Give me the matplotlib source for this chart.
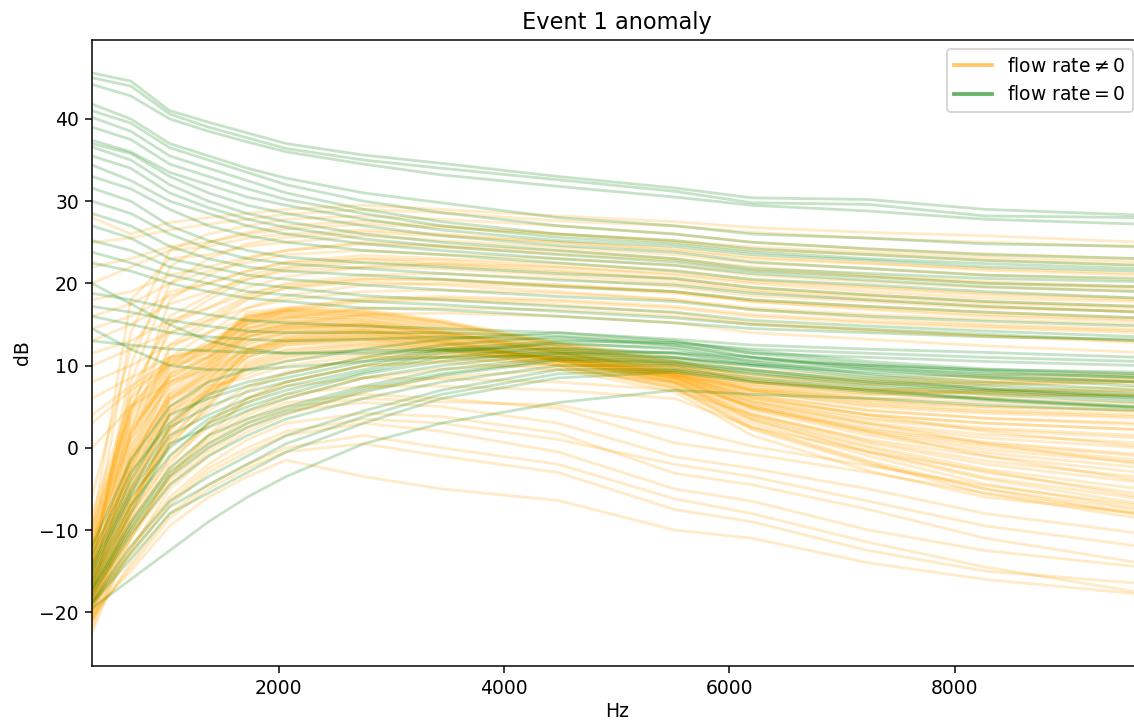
import matplotlib.pyplot as plt
from matplotlib.lines import Line2D

# spectrum bins (Hz)
freqs = [345, 689, 1034, 1378, 1723, 2067, 2756, 3445, 4479, 5513, 6201, 7235, 8269, 9647]

# spectra recorded while the flow rate was non-zero (dB)
flow_on = [
    [28.0, 26.0, 27.4, 28.0, 28.5, 29.0, 29.5, 29.0, 28.2, 27.5, 26.8, 26.2, 25.8, 25.0],
    [25.0, 25.5, 26.5, 27.2, 27.8, 28.4, 29.0, 28.6, 27.6, 27.0, 26.2, 25.5, 25.0, 24.4],
    [-12.0, 14.0, 24.0, 26.0, 27.0, 27.8, 28.2, 27.8, 27.0, 26.0, 25.0, 24.2, 23.6, 23.0],
    [-15.0, 10.0, 22.0, 25.0, 26.2, 27.0, 27.6, 27.0, 26.0, 25.0, 24.0, 23.5, 22.8, 22.2],
    [20.0, 22.0, 24.0, 24.5, 25.5, 26.0, 26.5, 26.0, 25.0, 24.2, 23.2, 22.5, 21.6, 21.0],
    [-16.0, 4.0, 18.0, 21.0, 23.0, 24.0, 25.0, 24.6, 24.0, 23.0, 22.0, 21.0, 20.2, 19.6],
    [16.0, 17.5, 20.0, 21.5, 22.5, 23.5, 24.0, 23.5, 23.0, 22.2, 21.0, 20.2, 19.5, 19.0],
    [-14.0, 6.0, 16.0, 18.5, 21.0, 22.0, 23.0, 22.8, 22.0, 21.0, 20.0, 19.0, 18.2, 17.8],
    [13.0, 15.0, 17.5, 19.0, 20.5, 21.5, 22.0, 21.8, 21.0, 20.0, 19.0, 18.0, 17.2, 16.5],
    [-18.0, 0.0, 12.0, 15.0, 18.0, 19.5, 20.5, 20.5, 19.8, 19.0, 18.0, 17.2, 16.5, 15.8],
    [10.0, 12.0, 14.0, 15.5, 17.0, 18.0, 19.0, 19.2, 18.8, 18.0, 17.0, 16.2, 15.6, 15.0],
    [-17.0, -2.0, 10.0, 13.0, 15.5, 16.8, 18.0, 18.2, 17.8, 17.0, 16.0, 15.2, 14.6, 14.0],
    [6.0, 8.5, 11.0, 12.5, 14.5, 15.8, 17.0, 17.0, 16.8, 16.0, 15.0, 14.2, 13.6, 13.0],
    [-13.0, 5.0, 14.0, 16.0, 18.5, 20.0, 21.0, 21.2, 20.6, 19.6, 18.5, 17.8, 17.0, 16.6],
    [-10.0, 18.0, 23.0, 23.5, 24.5, 25.0, 25.8, 25.2, 24.4, 23.5, 22.5, 21.8, 21.0, 20.4],
    [-6.0, 12.0, 19.0, 20.0, 21.5, 22.5, 23.0, 22.4, 21.6, 20.6, 19.5, 18.6, 17.8, 17.2],
    [22.0, 23.0, 24.5, 25.0, 26.0, 26.6, 27.2, 26.8, 26.0, 25.2, 24.4, 23.8, 23.2, 22.6],
    [-14.5, 8.0, 20.0, 23.0, 24.8, 25.6, 26.2, 25.8, 25.0, 24.0, 23.0, 22.4, 21.8, 21.2],
    [18.0, 19.0, 21.0, 22.0, 23.2, 24.0, 24.8, 24.4, 23.6, 22.8, 21.6, 20.8, 20.0, 19.4],
    [-16.5, 2.0, 15.0, 18.0, 20.5, 21.8, 22.6, 22.2, 21.4, 20.4, 19.2, 18.4, 17.6, 17.0],
    [11.5, 13.0, 15.5, 17.0, 18.8, 19.8, 20.6, 20.4, 19.8, 19.0, 17.8, 17.0, 16.2, 15.6],
    [-18.5, -3.0, 9.0, 12.5, 15.0, 16.6, 17.8, 18.0, 17.4, 16.4, 15.2, 14.4, 13.6, 12.8],
    [8.0, 10.0, 12.5, 14.0, 15.8, 17.0, 18.2, 18.4, 18.0, 17.2, 16.2, 15.4, 14.8, 14.2],
    [-12.5, 7.0, 15.0, 17.0, 19.5, 20.8, 22.0, 22.4, 22.0, 21.2, 20.2, 19.4, 18.6, 18.0],
    [-17.5, -1.0, 11.0, 14.0, 17.0, 18.5, 19.8, 20.0, 19.6, 18.8, 17.8, 16.8, 16.0, 15.4],
    [14.5, 16.0, 18.5, 20.0, 21.5, 22.6, 23.4, 23.0, 22.4, 21.6, 20.4, 19.6, 18.8, 18.2],
    [4.0, 7.5, 10.5, 12.0, 14.0, 15.0, 16.2, 16.4, 16.0, 15.2, 14.0, 13.2, 12.4, 11.6],
    [-15.5, 1.0, 12.5, 15.5, 18.2, 19.4, 20.2, 19.8, 19.0, 18.0, 16.8, 15.8, 15.0, 14.4],
    [-8.0, 6.0, 11.0, 12.0, 16.5, 17.0, 16.8, 15.5, 12.8, 11.0, 9.5, 8.5, 8.8, 9.0],
    [-10.0, 4.0, 10.0, 11.5, 16.0, 16.5, 16.2, 15.0, 12.5, 10.5, 9.0, 8.0, 8.0, 8.2],
    [-12.0, 2.0, 9.0, 11.0, 15.5, 16.2, 16.0, 14.6, 12.2, 10.0, 8.2, 7.2, 7.0, 6.8],
    [-14.0, 0.0, 8.0, 10.5, 15.0, 15.8, 15.6, 14.2, 12.0, 9.6, 7.5, 6.0, 5.5, 5.0],
    [-15.0, -2.0, 7.0, 10.0, 14.5, 15.4, 15.2, 14.0, 11.8, 9.2, 6.8, 5.0, 4.2, 3.6],
    [-16.0, -3.0, 6.0, 9.5, 14.0, 15.0, 15.0, 13.8, 11.6, 9.0, 6.0, 4.0, 3.0, 2.2],
    [-17.0, -4.0, 5.5, 9.0, 13.5, 14.6, 14.8, 13.6, 11.4, 8.8, 5.4, 3.0, 1.6, 0.6],
    [-18.0, -5.0, 5.0, 8.5, 13.0, 14.2, 14.5, 13.4, 11.2, 8.6, 5.0, 2.2, 0.5, -1.0],
    [-19.0, -6.0, 4.0, 8.0, 12.5, 13.8, 14.2, 13.2, 11.0, 8.4, 4.6, 1.5, -0.6, -2.4],
    [-20.0, -7.0, 3.0, 7.5, 12.0, 13.4, 14.0, 13.0, 10.8, 8.2, 4.2, 0.8, -1.6, -3.6],
    [-21.0, -8.0, 2.0, 7.0, 11.5, 13.0, 13.6, 12.8, 10.6, 8.0, 3.8, 0.2, -2.6, -5.0],
    [-20.5, -8.5, 1.0, 6.0, 11.0, 12.5, 13.2, 12.5, 10.4, 7.8, 3.4, -0.4, -3.6, -6.2],
    [-19.5, -7.5, 1.5, 5.5, 10.5, 12.0, 12.8, 12.2, 10.2, 7.6, 3.0, -1.0, -4.4, -7.4],
    [-18.5, -6.5, 0.5, 5.0, 10.0, 11.5, 12.5, 12.0, 10.0, 7.4, 2.6, -1.6, -5.0, -8.2],
    [-17.5, -5.5, 3.5, 6.5, 9.5, 11.0, 12.0, 11.6, 10.8, 9.0, 7.0, 6.0, 6.2, 6.5],
    [-16.5, -4.5, 4.5, 7.0, 9.0, 10.6, 11.5, 11.4, 11.0, 9.4, 7.6, 6.6, 7.0, 7.4],
    [-15.5, -3.5, 5.0, 7.5, 8.5, 10.0, 11.2, 11.2, 11.2, 9.8, 8.0, 7.0, 7.6, 8.0],
    [-14.5, -2.5, 6.0, 8.0, 11.0, 12.5, 13.0, 12.0, 11.0, 9.0, 6.4, 4.5, 3.6, 3.0],
    [-13.5, -1.5, 6.5, 9.0, 12.0, 13.0, 13.4, 12.4, 10.8, 8.8, 5.8, 3.6, 2.4, 1.5],
    [-12.5, 1.0, 7.5, 10.0, 13.0, 14.0, 14.0, 12.8, 10.6, 8.6, 5.2, 2.8, 1.2, 0.0],
    [-11.5, 3.0, 8.5, 11.0, 14.0, 14.8, 14.6, 13.2, 10.6, 8.4, 4.8, 2.0, 0.2, -1.5],
    [-22.0, -10.0, -2.0, 3.0, 7.0, 9.0, 11.0, 11.0, 10.0, 7.2, 2.2, -2.0, -5.0, -7.6],
    [-9.0, 5.0, 10.5, 12.5, 15.8, 16.6, 16.4, 15.2, 12.6, 10.4, 8.4, 7.6, 7.8, 8.0],
    [-11.0, 3.5, 9.5, 11.8, 16.2, 16.8, 16.6, 15.3, 12.4, 10.2, 8.8, 8.2, 8.4, 8.6],
    [-13.0, 1.5, 8.5, 10.8, 15.2, 15.9, 15.5, 14.2, 11.6, 9.6, 7.2, 5.8, 5.0, 4.4],
    [-19.0, -6.8, 2.5, 6.8, 11.8, 13.2, 13.8, 12.9, 10.7, 8.1, 4.0, 0.6, -2.0, -4.2],
    [3.0, 7.0, 10.0, 11.0, 13.5, 14.5, 15.0, 14.0, 12.0, 10.0, 8.0, 7.0, 6.6, 6.4],
    [0.0, 5.0, 8.0, 9.5, 12.0, 13.5, 14.2, 13.6, 11.6, 9.4, 7.0, 5.6, 5.0, 4.6],
    [-10.5, 4.5, 10.2, 11.8, 15.6, 16.3, 16.1, 14.8, 12.3, 10.1, 8.0, 7.0, 6.6, 6.2],
    [-12.8, 1.8, 8.8, 11.2, 15.3, 16.0, 15.8, 14.4, 12.0, 9.8, 7.8, 6.6, 6.0, 5.4],
    [-14.8, -0.8, 7.6, 10.2, 14.6, 15.5, 15.3, 14.0, 11.7, 9.3, 7.0, 5.4, 4.6, 4.0],
    [-16.8, -3.6, 5.8, 9.2, 13.6, 14.8, 14.9, 13.7, 11.5, 8.9, 5.6, 3.4, 2.2, 1.2],
    [-18.8, -5.8, 4.4, 8.2, 12.7, 14.0, 14.3, 13.3, 11.1, 8.5, 4.8, 1.8, -0.2, -1.8],
    [-20.2, -7.6, 2.6, 7.2, 11.7, 13.2, 13.7, 12.8, 10.6, 8.0, 3.6, 0.0, -3.0, -5.6],
    [-21.5, -9.0, 0.2, 5.2, 10.2, 11.8, 12.6, 11.9, 10.0, 7.3, 2.4, -1.8, -5.6, -8.6],
    [-17.8, -4.8, 4.0, 6.8, 9.8, 11.2, 12.2, 11.8, 10.9, 9.2, 7.2, 6.4, 6.8, 7.0],
    [-13.8, -1.2, 6.2, 8.6, 11.5, 12.8, 13.2, 12.2, 10.9, 8.9, 6.1, 4.0, 3.0, 2.2],
    [-11.8, 2.5, 8.0, 10.4, 13.5, 14.4, 14.3, 13.0, 10.6, 8.5, 5.0, 2.4, 0.7, -0.8],
    [-9.5, 4.8, 10.8, 12.2, 16.0, 16.7, 16.5, 15.3, 12.7, 10.6, 8.6, 7.8, 8.0, 8.4],
    [-19.8, -7.2, 2.2, 6.2, 11.2, 12.8, 13.4, 12.6, 10.5, 7.9, 3.4, -0.6, -3.8, -6.8],
    [-22.5, -11.0, -3.5, 1.5, 6.0, 8.0, 10.0, 10.4, 9.6, 6.8, 1.5, -2.8, -6.0, -8.0],
    [-15.2, -2.2, 6.6, 9.6, 14.2, 15.1, 15.0, 13.9, 11.6, 9.1, 6.4, 4.6, 3.6, 2.8],
    [-20.8, -12.5, -5.0, -1.0, 2.0, 4.0, 7.0, 8.6, 9.5, 8.0, 5.0, 2.0, -1.0, -4.0],
    [-19.2, -11.0, -3.0, 1.0, 4.0, 6.0, 8.5, 9.6, 10.2, 8.6, 5.6, 3.0, 0.5, -2.0],
    [-18.2, -9.5, -1.0, 3.0, 6.0, 8.0, 10.0, 10.6, 10.6, 8.8, 6.2, 4.0, 2.0, 0.2],
    [-16.2, -7.0, 1.0, 4.5, 7.5, 9.2, 10.8, 11.0, 10.8, 9.0, 6.8, 5.2, 4.4, 3.8],
    [-20.0, -15.0, -9.5, -6.0, -3.5, -1.5, -3.5, -5.0, -6.4, -10.0, -11.0, -14.0, -16.0, -17.8],
    [-21.0, -14.0, -8.0, -4.5, -2.0, 0.0, 1.5, 0.0, -2.0, -6.2, -8.0, -11.5, -14.5, -17.6],
    [-19.5, -13.0, -7.0, -3.0, -0.5, 1.5, 3.0, 2.0, -0.5, -5.0, -6.5, -10.0, -12.5, -14.5],
    [-18.8, -12.0, -6.0, -2.0, 1.0, 3.0, 4.2, 3.8, 1.8, -3.1, -4.5, -7.5, -11.0, -14.0],
    [-18.0, -11.0, -4.5, -0.5, 2.5, 4.5, 5.5, 5.0, 3.0, -1.1, -2.5, -5.0, -8.0, -10.4],
    [-17.2, -10.0, -3.5, 0.5, 3.5, 5.5, 6.5, 6.0, 4.8, 0.6, -0.8, -3.0, -5.5, -8.0],
    [-16.5, -9.0, -2.5, 1.5, 4.5, 6.5, 7.5, 7.5, 7.0, 6.0, 2.5, -0.5, -2.8, -6.0],
    [-15.8, -8.0, -1.5, 2.5, 5.5, 7.5, 8.5, 8.4, 8.0, 7.0, 4.0, 1.0, -1.0, -3.0],
    [-20.5, -14.5, -8.5, -5.0, -2.5, -0.5, 0.5, -1.0, -3.0, -7.5, -9.0, -12.5, -15.0, -16.5],
    [-19.0, -12.5, -6.5, -2.5, 0.0, 2.0, 3.5, 3.0, 1.0, -2.0, -3.5, -6.5, -9.5, -12.0],
    [-17.8, -10.5, -4.0, 0.0, 3.0, 5.0, 6.0, 5.6, 5.2, 2.5, 0.2, -2.2, -4.6, -7.0],
]

# spectra recorded with zero flow rate (dB)
flow_off = [
    [45.6, 44.6, 41.0, 39.6, 38.3, 37.0, 35.6, 34.6, 33.0, 31.6, 30.4, 30.2, 29.0, 28.3],
    [45.0, 44.0, 40.6, 39.0, 37.7, 36.4, 35.0, 34.0, 32.6, 31.2, 29.8, 29.6, 28.2, 28.0],
    [44.2, 42.8, 40.0, 38.5, 37.2, 36.0, 34.5, 33.2, 31.8, 30.5, 29.5, 28.8, 27.8, 27.2],
    [41.8, 40.0, 37.0, 35.5, 34.0, 32.8, 31.0, 29.8, 28.0, 27.0, 26.0, 25.5, 24.8, 24.5],
    [41.0, 39.5, 36.5, 35.0, 33.5, 32.0, 30.0, 28.6, 27.0, 26.0, 25.0, 24.2, 23.5, 23.0],
    [40.2, 38.5, 35.5, 34.0, 32.5, 31.0, 29.0, 27.5, 26.0, 25.2, 24.2, 23.5, 22.8, 22.2],
    [39.0, 37.5, 34.5, 33.0, 31.5, 30.2, 28.5, 27.0, 25.6, 24.8, 23.8, 23.0, 22.4, 21.8],
    [37.4, 36.0, 33.5, 32.0, 30.5, 29.5, 27.8, 26.5, 25.2, 24.5, 23.5, 22.8, 22.0, 21.5],
    [37.0, 35.8, 33.0, 31.0, 29.5, 28.5, 27.0, 25.8, 24.6, 23.8, 22.6, 21.8, 21.0, 20.6],
    [36.6, 35.0, 32.0, 30.0, 28.5, 27.5, 26.0, 25.0, 24.0, 23.0, 21.8, 21.2, 20.6, 20.2],
    [35.5, 34.0, 31.0, 29.2, 27.8, 26.8, 25.4, 24.5, 23.5, 22.6, 21.5, 20.8, 20.0, 19.6],
    [34.4, 32.5, 30.0, 28.5, 27.0, 26.0, 24.8, 24.0, 23.0, 22.2, 21.2, 20.4, 19.6, 19.0],
    [33.0, 31.5, 29.0, 27.0, 25.8, 25.0, 24.0, 23.5, 22.5, 21.5, 20.5, 19.8, 19.0, 18.2],
    [31.6, 30.0, 27.0, 25.2, 24.0, 23.2, 22.5, 22.0, 21.2, 20.6, 19.5, 18.6, 17.8, 17.2],
    [30.0, 28.5, 26.0, 24.2, 23.0, 22.4, 21.8, 21.2, 20.4, 19.8, 18.8, 18.0, 17.2, 16.5],
    [28.5, 27.0, 24.5, 23.0, 22.0, 21.5, 21.0, 20.5, 19.6, 19.0, 18.0, 17.2, 16.5, 15.8],
    [27.0, 25.5, 23.0, 22.0, 21.0, 20.5, 19.8, 19.2, 18.4, 17.8, 16.8, 16.0, 15.4, 14.8],
    [25.2, 24.0, 22.0, 21.0, 20.0, 19.5, 18.5, 18.0, 17.2, 16.5, 15.5, 14.8, 14.2, 13.5],
    [23.8, 22.5, 21.0, 20.0, 19.0, 18.6, 17.8, 17.4, 16.6, 15.8, 15.0, 14.4, 13.8, 13.0],
    [22.5, 21.5, 20.0, 19.0, 18.2, 17.8, 17.0, 16.8, 16.0, 15.2, 14.5, 14.0, 13.5, 13.2],
    [18.8, 18.0, 17.0, 16.2, 15.5, 15.2, 14.8, 14.5, 14.0, 13.2, 12.5, 12.0, 11.6, 11.0],
    [17.2, 16.5, 15.5, 14.8, 14.2, 14.0, 14.0, 14.0, 13.6, 12.8, 12.0, 11.5, 11.0, 10.5],
    [16.0, 15.0, 14.0, 13.5, 13.2, 13.0, 13.2, 13.5, 13.2, 12.5, 11.5, 11.0, 10.5, 10.0],
    [13.0, 12.5, 12.0, 11.8, 11.6, 11.5, 11.8, 12.0, 12.0, 11.5, 10.6, 10.0, 9.5, 9.2],
    [20.0, 17.5, 15.0, 13.0, 12.0, 11.5, 11.5, 11.8, 11.5, 11.0, 10.2, 9.6, 9.0, 8.6],
    [14.5, 12.0, 10.0, 9.5, 9.5, 9.8, 10.5, 11.0, 11.2, 10.8, 10.0, 9.2, 8.6, 8.0],
    [-12.0, -1.5, 5.0, 8.0, 9.5, 10.5, 12.0, 13.2, 14.0, 13.0, 11.5, 10.2, 9.4, 8.8],
    [-13.0, -3.0, 3.0, 6.5, 8.0, 9.0, 11.0, 12.5, 13.5, 12.5, 11.0, 9.5, 8.5, 7.5],
    [-14.0, -4.0, 4.0, 6.0, 7.5, 8.5, 10.5, 12.0, 13.0, 12.8, 11.8, 10.5, 9.6, 9.0],
    [-14.5, -5.0, 2.5, 5.0, 6.8, 8.0, 10.0, 11.8, 12.6, 12.2, 11.0, 9.8, 8.8, 8.0],
    [-15.0, -5.5, 1.5, 4.0, 6.0, 7.5, 9.5, 11.5, 12.8, 12.0, 10.5, 9.0, 8.0, 7.0],
    [-15.5, -6.0, 0.0, 3.5, 5.5, 7.0, 9.2, 11.0, 12.2, 11.5, 10.2, 8.8, 7.6, 6.6],
    [-16.0, -7.0, -1.0, 3.0, 5.0, 6.5, 9.0, 10.5, 11.8, 11.0, 10.0, 8.5, 7.2, 6.3],
    [-16.5, -8.0, 0.5, 2.5, 4.5, 6.0, 8.5, 10.0, 11.5, 11.6, 11.0, 10.0, 9.2, 8.5],
    [-17.0, -9.0, -2.5, 1.5, 3.5, 5.0, 7.5, 9.5, 11.0, 10.5, 9.5, 8.0, 7.0, 6.0],
    [-17.2, -9.5, -3.0, 0.5, 3.0, 4.6, 7.2, 9.0, 10.8, 10.4, 9.4, 8.2, 7.2, 6.2],
    [-17.5, -10.0, -3.5, 0.0, 2.5, 4.2, 6.8, 8.8, 10.6, 10.2, 9.2, 7.8, 6.8, 5.8],
    [-18.0, -10.5, -4.5, -1.0, 1.5, 3.5, 6.0, 8.0, 10.0, 10.0, 9.0, 7.5, 6.5, 5.5],
    [-18.5, -12.0, -6.5, -3.5, -1.0, 1.5, 4.5, 7.0, 9.5, 9.6, 8.5, 7.2, 6.0, 5.0],
    [-18.8, -12.8, -7.2, -4.5, -2.0, 0.5, 3.8, 6.5, 9.0, 9.4, 8.2, 7.0, 5.9, 4.9],
    [-19.0, -13.5, -8.0, -5.5, -3.0, -0.5, 3.0, 6.0, 8.5, 9.2, 8.0, 6.8, 5.8, 4.8],
    [-19.5, -16.0, -12.5, -9.0, -6.0, -3.5, 0.5, 3.0, 5.5, 7.0, 6.5, 6.0, 5.2, 4.5],
]

# rendered at 135 dpi so text and lines come out at notebook scale
fig = plt.figure(figsize=(1135 / 135, 722 / 135), dpi=135)
ax = fig.add_axes([92 / 1135, 56.3 / 722, 1050 / 1135, 625.7 / 722])

for spec in flow_on:
    ax.plot(freqs, spec, color='orange', alpha=0.22, lw=1.5)
for spec in flow_off:
    ax.plot(freqs, spec, color='green', alpha=0.22, lw=1.5)

handles = [Line2D([0], [0], color='orange', alpha=0.6, lw=2),
           Line2D([0], [0], color='green', alpha=0.6, lw=2)]
ax.legend(handles, ['flow rate$\\neq$0', 'flow rate$=$0'], loc='upper right')

ax.set_xlim(345, 9660)
ax.set_ylim(-26.5, 49.6)
ax.set_xlabel('Hz', labelpad=2)
ax.set_ylabel('dB')
ax.set_title('Event 1 anomaly')

fig.savefig('out.png', dpi=135)
